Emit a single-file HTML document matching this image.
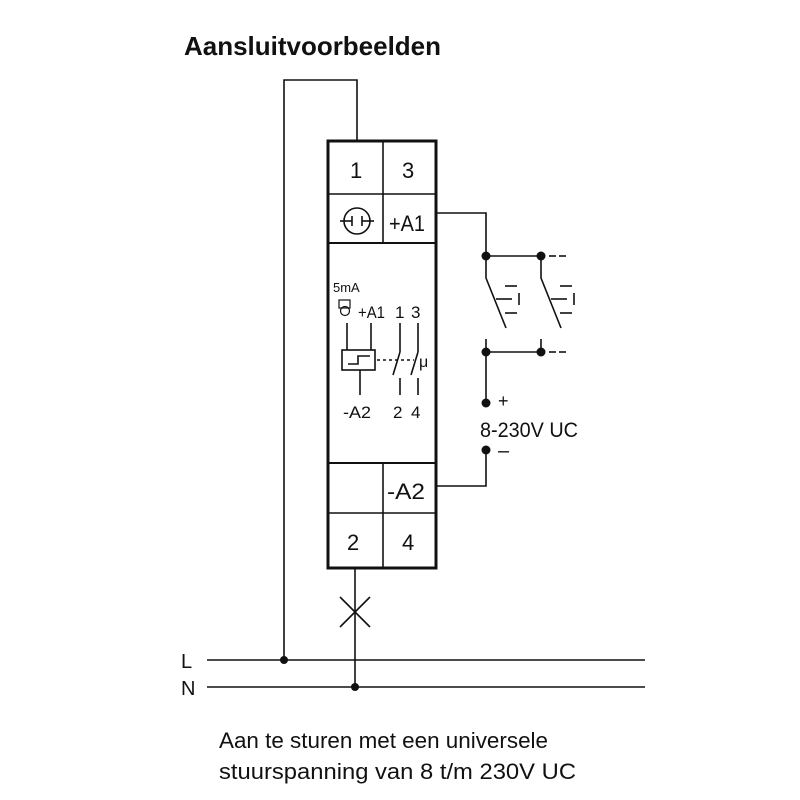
<!DOCTYPE html>
<html><head><meta charset="utf-8"><style>
html,body{margin:0;padding:0;background:#fff}
svg{display:block}
text{font-family:"Liberation Sans",sans-serif;fill:#111}
</style></head><body>
<svg width="800" height="800" viewBox="0 0 800 800" xmlns="http://www.w3.org/2000/svg">
<g stroke="#111" fill="none" stroke-width="1.6">
<polyline points="357,140 357,80 284,80 284,660"/>
<line x1="355" y1="569" x2="355" y2="687"/>
<line x1="340" y1="597" x2="370" y2="627"/>
<line x1="370" y1="597" x2="340" y2="627"/>
<line x1="207" y1="660" x2="645" y2="660"/>
<line x1="207" y1="687" x2="645" y2="687"/>
<polyline points="437,213 486,213 486,256 541,256"/>
<line x1="549" y1="256" x2="556" y2="256"/><line x1="559" y1="256" x2="566" y2="256"/>
<polyline points="486,256 486,278 506,328"/>
<polyline points="541,256 541,278 561,328"/>
<line x1="505" y1="286" x2="517" y2="286"/><line x1="496" y1="299" x2="512" y2="299"/><line x1="519" y1="293" x2="519" y2="305"/><line x1="505" y1="313" x2="517" y2="313"/>
<line x1="560" y1="286" x2="572" y2="286"/><line x1="551" y1="299" x2="567" y2="299"/><line x1="574" y1="293" x2="574" y2="305"/><line x1="560" y1="313" x2="572" y2="313"/>
<line x1="486" y1="339" x2="486" y2="403"/>
<line x1="541" y1="339" x2="541" y2="352"/>
<line x1="486" y1="352" x2="541" y2="352"/>
<line x1="549" y1="352" x2="556" y2="352"/><line x1="559" y1="352" x2="566" y2="352"/>
<polyline points="486,450 486,486 437,486"/>
<rect x="328" y="141" width="108" height="427" stroke-width="3"/>
<line x1="383" y1="141" x2="383" y2="243"/>
<line x1="328" y1="194" x2="436" y2="194"/>
<line x1="328" y1="243" x2="436" y2="243" stroke-width="2"/>
<line x1="328" y1="463" x2="436" y2="463" stroke-width="2"/>
<line x1="328" y1="513" x2="436" y2="513"/>
<line x1="383" y1="463" x2="383" y2="568"/>
<circle cx="357" cy="221" r="13"/>
<line x1="340" y1="221" x2="352" y2="221"/><line x1="362" y1="221" x2="374" y2="221"/>
<line x1="352" y1="216" x2="352" y2="226"/><line x1="362" y1="216" x2="362" y2="226"/>
<line x1="347" y1="323" x2="347" y2="350"/>
<line x1="371" y1="323" x2="371" y2="350"/>
<rect x="342" y="350" width="33" height="20"/>
<polyline points="348,364 358,364 358,356 370,356"/>
<line x1="360" y1="370" x2="360" y2="395"/>
<line x1="377" y1="360" x2="414" y2="360" stroke-dasharray="3,3"/>
<line x1="400" y1="323" x2="400" y2="352"/><line x1="400" y1="352" x2="393" y2="375"/>
<line x1="418" y1="323" x2="418" y2="352"/><line x1="418" y1="352" x2="411" y2="375"/>
<line x1="400" y1="378" x2="400" y2="395"/><line x1="418" y1="378" x2="418" y2="395"/>
<rect x="339" y="300" width="11" height="8" stroke-width="1.2"/>
<circle cx="345" cy="311" r="4.5" stroke-width="1.2"/>
</g>
<g fill="#111">
<circle cx="284" cy="660" r="4"/><circle cx="355" cy="687" r="4"/>
<circle cx="486" cy="256" r="4.5"/><circle cx="541" cy="256" r="4.5"/>
<circle cx="486" cy="352" r="4.5"/><circle cx="541" cy="352" r="4.5"/>
<circle cx="486" cy="403" r="4.5"/><circle cx="486" cy="450" r="4.5"/>
</g>
<text x="184" y="55" font-size="26" font-weight="bold" textLength="257" lengthAdjust="spacingAndGlyphs">Aansluitvoorbeelden</text>
<text x="350" y="178" font-size="22">1</text>
<text x="402" y="178" font-size="22">3</text>
<text x="389" y="231" font-size="22" textLength="36" lengthAdjust="spacingAndGlyphs">+A1</text>
<text x="387" y="499" font-size="22" textLength="38" lengthAdjust="spacingAndGlyphs">-A2</text>
<text x="347" y="550" font-size="22">2</text>
<text x="402" y="550" font-size="22">4</text>
<text x="333" y="292" font-size="13">5mA</text>
<text x="358" y="318" font-size="17" textLength="27" lengthAdjust="spacingAndGlyphs">+A1</text>
<text x="395" y="318" font-size="17">1</text>
<text x="411" y="318" font-size="17">3</text>
<text x="419" y="367" font-size="16">μ</text>
<text x="343" y="418" font-size="17" textLength="28" lengthAdjust="spacingAndGlyphs">-A2</text>
<text x="393" y="418" font-size="17">2</text>
<text x="411" y="418" font-size="17">4</text>
<text x="498" y="407" font-size="18">+</text>
<text x="480" y="437" font-size="21" textLength="98" lengthAdjust="spacingAndGlyphs">8-230V UC</text>
<text x="498" y="457" font-size="20">–</text>
<text x="181" y="668" font-size="20">L</text>
<text x="181" y="695" font-size="20">N</text>
<text x="219" y="748" font-size="22" textLength="329" lengthAdjust="spacingAndGlyphs">Aan te sturen met een universele</text>
<text x="219" y="779" font-size="22" textLength="357" lengthAdjust="spacingAndGlyphs">stuurspanning van 8 t/m 230V UC</text>
</svg>
</body></html>
